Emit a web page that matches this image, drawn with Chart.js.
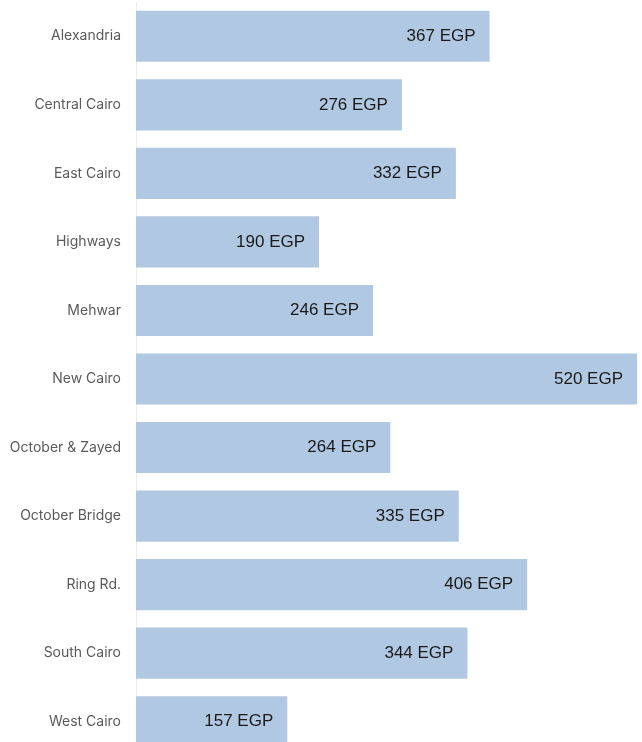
<!DOCTYPE html>
<html>
<head>
<meta charset="utf-8">
<script src="https://cdn.jsdelivr.net/npm/chart.js@4.4.1/dist/chart.umd.min.js"></script>
<style>
  html, body { margin: 0; padding: 0; background: #ffffff; overflow: hidden; }
  #wrap { width: 642px; height: 756px; position: relative; }
</style>
</head>
<body>
<div id="wrap"><canvas id="chart" width="642" height="756"></canvas></div>
<script>
// Average fare per region
const regions = ["Alexandria", "Central Cairo", "East Cairo", "Highways", "Mehwar", "New Cairo",
  "October & Zayed", "October Bridge", "Ring Rd.", "South Cairo", "West Cairo"];
const fares = [367, 276, 332, 190, 246, 520, 264, 335, 406, 344, 157];
const currency = "EGP";

// Value label drawn inside the right end of each bar
const barValueLabels = {
  id: "barValueLabels",
  afterDatasetsDraw(chart) {
    const ctx = chart.ctx;
    const meta = chart.getDatasetMeta(0);
    ctx.save();
    ctx.font = "17px 'Liberation Sans', Arial, sans-serif";
    ctx.fillStyle = "#1a1a1a";
    ctx.textAlign = "right";
    ctx.textBaseline = "middle";
    meta.data.forEach((bar, i) => {
      ctx.fillText(fares[i] + " " + currency, bar.x - 14, bar.y);
    });
    ctx.restore();
  }
};

new Chart(document.getElementById("chart"), {
  type: "bar",
  data: {
    labels: regions,
    datasets: [{
      data: fares,
      backgroundColor: "#b0c8e1",
      borderWidth: 0,
      barPercentage: 0.746,
      categoryPercentage: 1.0
    }]
  },
  options: {
    indexAxis: "y",
    responsive: false,
    animation: false,
    layout: { padding: { top: 2, right: 5, bottom: 0, left: 0 } },
    plugins: { legend: { display: false }, tooltip: { enabled: false } },
    scales: {
      x: {
        display: false,
        min: 0,
        max: 520
      },
      y: {
        afterFit(scale) {
          scale.width = 136;
          scale.paddingTop = 0;
          scale.paddingBottom = 0;
        },
        grid: { display: false, drawTicks: false },
        border: { display: true, color: "#ececec", width: 1 },
        ticks: {
          padding: 15,
          color: "#5a5a5a",
          font: { family: "Inter, 'Liberation Sans', Arial, sans-serif", size: 14 }
        }
      }
    }
  },
  plugins: [barValueLabels]
});
</script>
</body>
</html>
